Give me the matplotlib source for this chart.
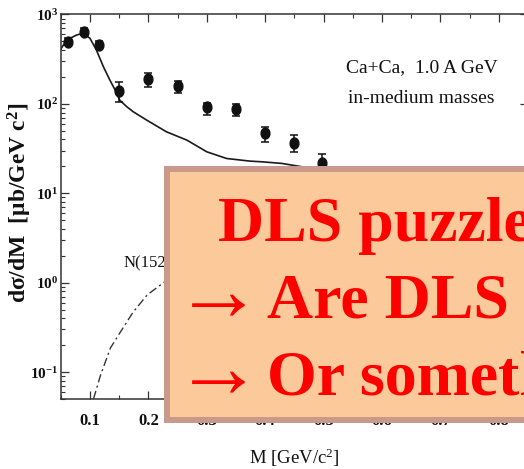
import matplotlib
matplotlib.use('Agg')
import matplotlib.pyplot as plt
import numpy as np
from matplotlib.patches import Rectangle
from matplotlib.path import Path
from matplotlib.ticker import LogLocator, MultipleLocator, NullFormatter

plt.rcParams['font.family'] = ['Liberation Serif', 'DejaVu Serif']
plt.rcParams['mathtext.fontset'] = 'custom'
plt.rcParams['mathtext.rm'] = 'Liberation Serif'
plt.rcParams['mathtext.it'] = 'Liberation Serif:italic'
plt.rcParams['mathtext.bf'] = 'Liberation Serif:bold'

# DLS data points, Ca+Ca at 1.0 A GeV
m_data = np.array([0.062, 0.089, 0.115, 0.150, 0.200, 0.251, 0.300, 0.350, 0.399, 0.449, 0.498])
y_data = np.array([498, 644, 460, 140, 191, 159, 92, 88, 47, 36.5, 21.7])
y_lo = np.array([450, 590, 415, 105, 155, 133, 75, 74, 37.5, 29, 17])
y_hi = np.array([550, 700, 510, 177, 222, 181, 102, 100, 55, 45, 27.5])

# total yield with in-medium masses
curve_m = [0.049, 0.060, 0.077, 0.0885, 0.100, 0.111, 0.123, 0.134, 0.143, 0.151,
           0.163, 0.174, 0.197, 0.231, 0.266, 0.300, 0.334, 0.374, 0.394, 0.428,
           0.463, 0.52]
curve_y = [400, 518, 589, 617, 541, 400, 260, 185, 143, 110,
           93, 81.7, 65.9, 48.7, 39.3, 29.1, 24.5, 22.9, 22.5, 21.6,
           19.8, 18.5]

# N(1520) Dalitz contribution
n1520_m = [0.106, 0.118, 0.135, 0.152, 0.174, 0.198, 0.226, 0.26]
n1520_y = [0.05, 0.092, 0.186, 0.28, 0.47, 0.73, 1.0, 1.4]

x_ticks = [0.1, 0.2, 0.3, 0.4, 0.5, 0.6, 0.7, 0.8]
x_ticklabels = ['0.1', '0.2', '0.3', '0.4', '0.5', '0.6', '0.7', '0.8']
y_ticks = [0.1, 1, 10, 100, 1000]
y_ticklabels = [r'$\mathbf{10^{-1}}$', r'$\mathbf{10^{0}}$', r'$\mathbf{10^{1}}$',
                r'$\mathbf{10^{2}}$', r'$\mathbf{10^{3}}$']

# slightly tall dot, like the printed symbols
t = np.linspace(0, 2 * np.pi, 40)
dot = Path(np.column_stack([np.cos(t), 1.25 * np.sin(t)]))

fig = plt.figure(figsize=(5.24, 4.69), dpi=100)
ax = fig.add_axes([0.116, 0.1493, 0.8916, 0.8198])

ax.plot(curve_m, curve_y, color='#1a1a1a', lw=1.2)
ax.plot(n1520_m, n1520_y, color='#333333', lw=1.0, ls=(0, (6, 2.5, 1.5, 2.5)))
ax.errorbar(m_data, y_data, yerr=[y_data - y_lo, y_hi - y_data], fmt='none',
            ecolor='#111111', elinewidth=1.1, capsize=2.9, capthick=1.1)
ax.plot(m_data, y_data, ls='none', marker=dot, ms=7.9, color='#111111')

ax.set_yscale('log')
ax.set_xlim(0.05, 0.85)
ax.set_ylim(0.05, 1000)

ax.set_xticks(x_ticks, x_ticklabels, fontweight='bold')
ax.set_yticks(y_ticks, y_ticklabels)
ax.xaxis.set_minor_locator(MultipleLocator(0.05))
ax.yaxis.set_minor_locator(LogLocator(base=10, subs=np.arange(2, 10)))
ax.yaxis.set_minor_formatter(NullFormatter())

ax.tick_params(which='both', direction='in', top=True, right=True, colors='#333333')
ax.tick_params(which='major', length=6, width=0.9, labelcolor='#111111')
ax.tick_params(which='minor', length=3, width=0.8)
ax.tick_params(axis='x', which='major', pad=10, labelsize=12)
ax.tick_params(axis='y', which='major', pad=2, labelsize=11)
for s in ax.spines.values():
    s.set_linewidth(1.1)
    s.set_color('#333333')

ax.set_xlabel(r'M [GeV/c$^{2}$]', fontsize=13.5, va='center', color='#111111')
ax.xaxis.set_label_coords(0.5, -0.153)
ax.set_ylabel('dσ/dM  [μb/GeV c$^{\\mathbf{2}}$]', fontsize=17,
              fontweight='bold', va='center', color='#111111')
ax.yaxis.set_label_coords(-0.0873, 0.51)

ax.text(0.668, 227, 'Ca+Ca,  1.0 A GeV', ha='center', va='baseline', fontsize=14, color='#111111')
ax.text(0.668, 102, 'in-medium masses', ha='center', va='baseline', fontsize=14, color='#111111')
ax.text(0.158, 1.5, 'N(1520)', ha='left', va='baseline', fontsize=12, color='#111111')

# overlay note
fig.add_artist(Rectangle((0.3187, 0.1045), 0.712, 0.536, transform=fig.transFigure,
                         facecolor='#fcca9a', edgecolor='#c9998a', lw=4.3, clip_on=False))
red = '#ff0000'
fig.text(218 / 524, 1 - 241 / 469, 'DLS puzzle:', color=red, fontsize=46,
         fontweight='bold', va='baseline', ha='left')
fig.text(218 / 524, 1 - 298 / 469, '\u2192', color=red, fontsize=64, va='center', ha='center')
fig.text(267 / 524, 1 - 318 / 469, 'Are DLS data correct?', color=red, fontsize=46,
         fontweight='bold', va='baseline', ha='left')
fig.text(218 / 524, 1 - 375 / 469, '\u2192', color=red, fontsize=64, va='center', ha='center')
fig.text(267 / 524, 1 - 395 / 469, 'Or something missing?', color=red, fontsize=46,
         fontweight='bold', va='baseline', ha='left')

fig.savefig('out.png', dpi=100)
